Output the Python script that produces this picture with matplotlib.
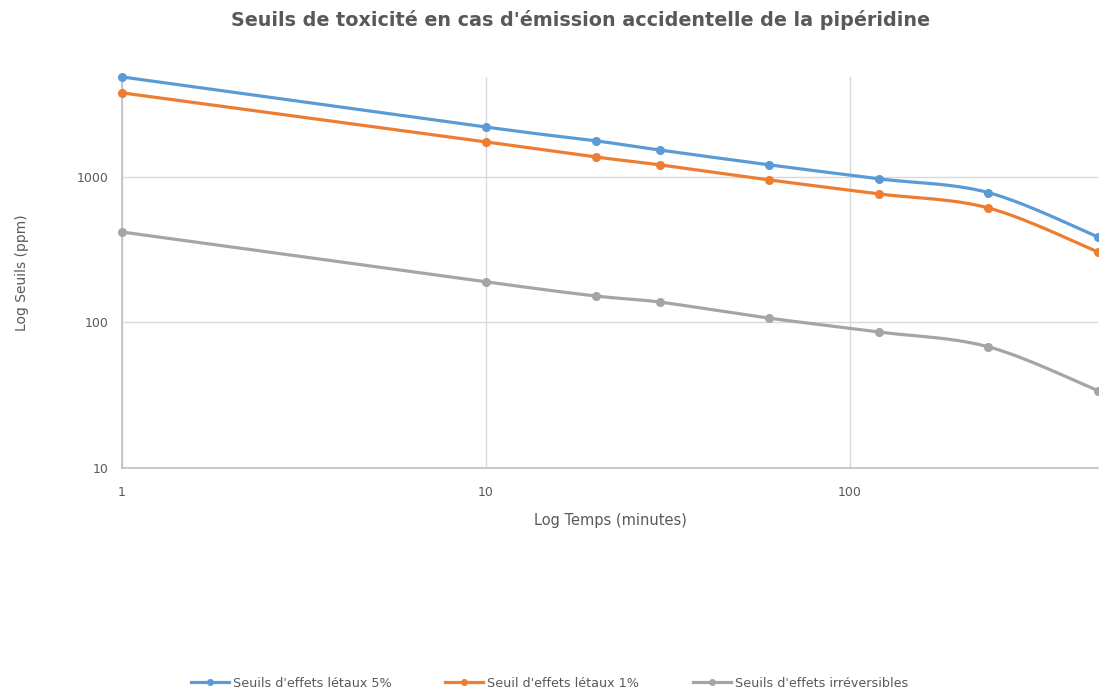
import numpy as np
import matplotlib.pyplot as plt
from matplotlib.ticker import FixedLocator, FixedFormatter, NullLocator

# Durées d'exposition (minutes) et seuils (ppm)
temps = [1, 10, 20, 30, 60, 120, 240, 480]
letaux_5 = [4860, 2200, 1770, 1530, 1210, 970, 780, 387]
letaux_1 = [3780, 1740, 1370, 1210, 953, 764, 612, 305]
irreversibles = [418, 190, 152, 138, 107, 86, 68, 34]

series = [
    ("Seuils d'effets létaux 5%", letaux_5, "#5B9BD5"),
    ("Seuil d'effets létaux 1%", letaux_1, "#ED7D31"),
    ("Seuils d'effets irréversibles", irreversibles, "#A5A5A5"),
]

gris_texte = "#595959"


def lissage(x, y, n=30):
    # courbe lissée (Bezier type Catmull-Rom) calculée en espace log-log
    lx = np.log10(np.asarray(x, float))
    ly = np.log10(np.asarray(y, float))
    pts = np.column_stack([lx, ly])
    ext = np.vstack([pts[0], pts, pts[-1]])
    out = []
    t = np.linspace(0, 1, n)[:, None]
    for i in range(len(pts) - 1):
        p0, p3 = ext[i + 1], ext[i + 2]
        c1 = p0 + (ext[i + 2] - ext[i]) / 6
        c2 = p3 - (ext[i + 3] - ext[i + 1]) / 6
        seg = ((1 - t) ** 3) * p0 + 3 * ((1 - t) ** 2) * t * c1 + 3 * (1 - t) * t ** 2 * c2 + t ** 3 * p3
        out.append(seg if i == 0 else seg[1:])
    out = np.vstack(out)
    return 10 ** out[:, 0], 10 ** out[:, 1]


fig = plt.figure(figsize=(10.99, 6.97), dpi=100)
ax = fig.add_axes([0.111, 0.3286, 0.888, 0.561])

for nom, vals, couleur in series:
    xs, ys = lissage(temps, vals)
    ax.plot(xs, ys, color=couleur, lw=2.3, solid_capstyle="butt", zorder=3, clip_on=False)
    ax.plot(temps, vals, "o", color=couleur, ms=5.5, zorder=4, clip_on=False)
    # entrée de légende : ligne + marqueur
    ax.plot([], [], color=couleur, lw=2.3, marker="o", ms=4, label=nom)

ax.set_xscale("log")
ax.set_yscale("log")
ax.set_xlim(1, 480)
ax.set_ylim(10, 4860)

ax.xaxis.set_major_locator(FixedLocator([1, 10, 100]))
ax.xaxis.set_major_formatter(FixedFormatter(["1", "10", "100"]))
ax.yaxis.set_major_locator(FixedLocator([10, 100, 1000]))
ax.yaxis.set_major_formatter(FixedFormatter(["10", "100", "1000"]))
ax.xaxis.set_minor_locator(NullLocator())
ax.yaxis.set_minor_locator(NullLocator())

ax.grid(True, which="major", color="#D9D9D9", lw=1)
ax.set_axisbelow(True)
for s in ["top", "right"]:
    ax.spines[s].set_visible(False)
for s in ["left", "bottom"]:
    ax.spines[s].set_color("#BFBFBF")
    ax.spines[s].set_linewidth(1.2)
ax.tick_params(length=0, labelsize=9, colors=gris_texte)
ax.tick_params(axis="x", pad=13)
ax.tick_params(axis="y", pad=10)

ax.set_xlabel("Log Temps (minutes)", fontsize=10.5, color=gris_texte, labelpad=10)
ax.set_ylabel("Log Seuils (ppm)", fontsize=10, color=gris_texte, labelpad=34)

fig.suptitle("Seuils de toxicité en cas d'émission accidentelle de la pipéridine",
             x=0.528, y=0.985, fontsize=13.8, fontweight="bold", color=gris_texte)

fig.legend(loc="center", bbox_to_anchor=(0.5, 0.02), ncol=3, frameon=False,
           fontsize=9.2, labelcolor=gris_texte, handlelength=3, columnspacing=4.2,
           handletextpad=0.3)

fig.savefig("out.png", dpi=100, facecolor="white")
